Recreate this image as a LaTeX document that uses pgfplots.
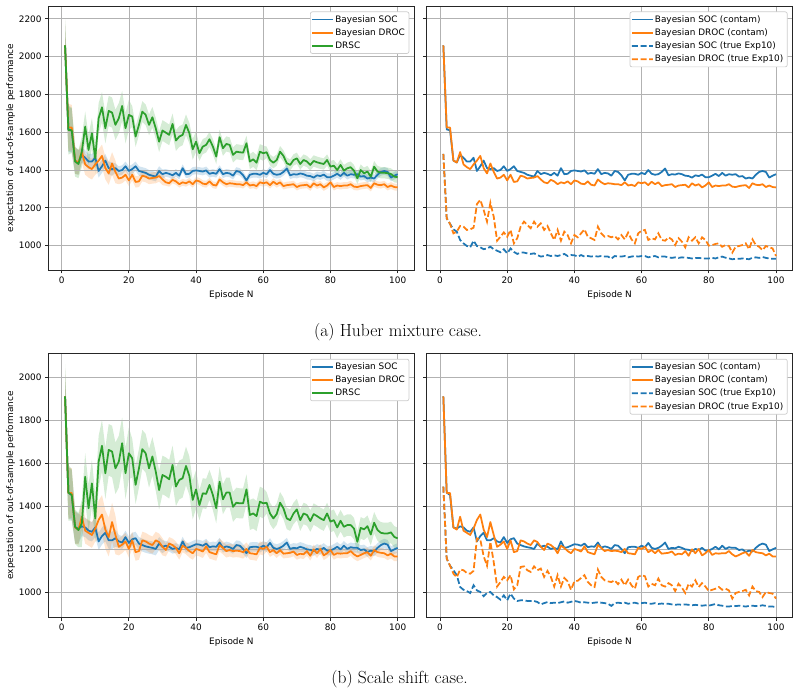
\documentclass[border=0pt]{standalone}
\usepackage{fontspec}
\usepackage{pgfplots}
\pgfplotsset{compat=1.18}
\usepackage{pgfplotstable}
\newfontfamily\dejavu{DejaVu Sans}
\newcommand\mpl{\dejavu\fontsize{8.9pt}{10.7pt}\selectfont}
\definecolor{tabblue}{HTML}{1F77B4}
\definecolor{taborange}{HTML}{FF7F0E}
\definecolor{tabgreen}{HTML}{2CA02C}

% N, mean and half band of each method; soct/droct: runs evaluated on the true Exp10 law
\pgfplotstableread{
N soc socs droc drocs drsc drscs soct droct
1 2060 130 2060 130 2060 140 1485 1485
2 1615 120 1625 125 1612 130 1145 1145
3 1610 115 1625 120 1610 120 1115 1115
4 1450 70 1450 70 1445 80 1086 1065
5 1440 65 1440 65 1432 75 1074 1074
6 1480 40 1495 55 1497 80 1030 1104
7 1465 40 1430 55 1630 80 1012 1100
8 1445 40 1415 55 1506 80 998 1083
9 1445 40 1405 55 1595 80 991 1086
10 1465 40 1430 55 1462 80 1026 1095
11 1395 35 1450 60 1674 80 998 1220
12 1420 35 1475 60 1732 80 991 1242
13 1450 35 1410 60 1621 80 981 1189
14 1410 35 1382 60 1713 80 985 1127
15 1405 35 1435 60 1704 80 994 1227
16 1410 25 1390 60 1639 80 981 1153
17 1395 25 1355 30 1674 80 973 1026
18 1400 25 1360 30 1739 80 965 1047
19 1420 25 1375 30 1621 80 981 1070
20 1395 25 1345 30 1692 80 959 1047
21 1405 25 1375 30 1683 55 985 1083
22 1420 25 1337 30 1577 55 967 1012
23 1395 25 1340 30 1639 55 956 1039
24 1390 25 1370 30 1709 55 963 1100
25 1385 25 1365 30 1692 55 963 1127
26 1375 25 1355 30 1639 55 959 1109
27 1370 25 1358 30 1679 55 956 1092
28 1365 25 1360 30 1621 55 959 1127
29 1395 25 1368 30 1550 55 950 1100
30 1378 25 1350 30 1609 55 942 1118
31 1385 20 1335 18 1598 55 945 1083
32 1380 20 1330 18 1586 55 950 1104
33 1372 20 1348 18 1644 55 945 1065
34 1385 20 1340 18 1556 55 949 1030
35 1370 20 1325 18 1577 55 945 1083
36 1410 20 1335 18 1586 55 950 1026
37 1378 20 1330 18 1639 55 956 1074
38 1380 20 1340 18 1595 55 945 1056
39 1395 20 1325 18 1510 55 950 1012
40 1398 20 1345 18 1550 55 949 1056
41 1395 20 1340 18 1489 40 942 1044
42 1392 20 1328 18 1524 40 950 1065
43 1398 20 1325 18 1533 40 942 1086
44 1380 20 1340 18 1563 40 945 1047
45 1385 20 1322 18 1524 40 942 1039
46 1380 20 1318 18 1471 40 945 1030
47 1405 20 1350 18 1574 40 942 1100
48 1378 20 1335 18 1515 40 945 1065
49 1385 20 1325 18 1538 40 942 1047
50 1382 20 1330 18 1533 40 942 1051
51 1370 20 1328 18 1480 40 931 1044
52 1395 20 1325 18 1497 40 945 1051
53 1390 20 1325 18 1494 40 942 1033
54 1372 20 1320 18 1492 40 942 1056
55 1345 20 1335 18 1542 40 945 1033
56 1375 20 1318 18 1445 40 938 1069
57 1380 20 1322 18 1457 40 942 1033
58 1380 20 1315 18 1439 40 945 1012
59 1375 20 1335 18 1497 40 942 1065
60 1385 20 1330 18 1489 40 945 1079
61 1378 20 1335 18 1494 30 945 1083
62 1400 20 1320 18 1453 30 938 1030
63 1380 20 1338 18 1439 30 942 1039
64 1375 20 1325 18 1453 30 945 1033
65 1378 20 1335 18 1497 30 938 1065
66 1390 20 1315 18 1475 30 942 1030
67 1408 20 1320 18 1436 30 942 1026
68 1372 20 1322 18 1427 30 938 1044
69 1378 20 1325 18 1453 30 935 1033
70 1376 20 1310 18 1462 30 938 1003
71 1382 20 1318 18 1432 30 935 1039
72 1378 20 1320 18 1453 30 938 1021
73 1370 20 1322 18 1445 30 936 991
74 1368 20 1308 18 1427 30 935 1044
75 1360 20 1330 18 1448 30 932 1026
76 1372 20 1318 18 1441 30 935 1044
77 1368 20 1325 18 1436 30 935 1012
78 1376 20 1308 18 1432 30 933 1044
79 1362 20 1318 18 1453 30 932 1030
80 1362 20 1335 18 1418 30 932 1000
81 1370 20 1310 18 1423 30 935 1003
82 1380 20 1318 18 1400 30 932 1009
83 1368 20 1315 18 1427 30 938 1012
84 1385 20 1318 18 1397 30 942 994
85 1370 20 1318 18 1409 30 936 1003
86 1378 20 1325 18 1415 30 932 998
87 1375 20 1312 18 1397 30 928 963
88 1378 20 1310 18 1356 30 930 994
89 1365 20 1315 18 1400 30 930 998
90 1368 20 1318 18 1383 30 932 1003
91 1355 20 1320 18 1392 30 930 1012
92 1360 20 1305 18 1365 30 928 981
93 1355 20 1330 18 1418 30 936 1033
94 1375 20 1322 18 1392 30 938 1003
95 1390 20 1320 18 1386 30 935 994
96 1395 20 1325 18 1386 30 940 976
97 1390 20 1310 18 1383 30 935 998
98 1360 20 1318 18 1379 30 932 991
99 1370 20 1310 18 1365 30 930 985
100 1378 20 1308 18 1362 30 930 945
}\huber

\pgfplotstableread{
N soc socs droc drocs drsc drscs soct droct
1 1910 130 1910 130 1910 150 1490 1490
2 1462 120 1460 120 1462 130 1155 1155
3 1451 115 1460 115 1451 120 1122 1122
4 1300 75 1300 75 1303 80 1101 1085
5 1295 70 1290 70 1288 80 1078 1068
6 1305 45 1350 60 1319 110 1023 1104
7 1300 45 1285 60 1536 110 1010 1101
8 1285 45 1275 60 1389 110 1004 1088
9 1280 45 1265 60 1505 110 995 1085
10 1300 45 1295 60 1342 110 1031 1098
11 1235 40 1335 90 1606 120 1007 1249
12 1260 40 1360 90 1680 120 1000 1244
13 1275 40 1290 90 1552 120 980 1166
14 1240 40 1255 90 1661 120 995 1122
15 1240 40 1325 90 1653 120 1000 1233
16 1250 40 1265 90 1575 120 984 1138
17 1235 30 1210 40 1606 120 976 1025
18 1230 30 1220 40 1692 120 964 1046
19 1255 30 1235 40 1552 120 984 1070
20 1228 30 1200 40 1645 120 961 1054
21 1245 30 1240 40 1622 90 992 1078
22 1250 30 1185 40 1498 90 969 1012
23 1225 30 1190 40 1575 90 958 1031
24 1218 30 1240 40 1664 90 961 1116
25 1212 30 1235 40 1645 90 961 1119
26 1208 30 1225 40 1575 90 958 1101
27 1205 30 1218 40 1630 90 958 1093
28 1200 30 1240 40 1560 90 958 1119
29 1225 30 1232 40 1474 90 953 1101
30 1210 30 1210 40 1544 90 942 1109
31 1215 22 1195 30 1536 90 948 1070
32 1210 22 1225 30 1524 90 953 1098
33 1200 22 1218 30 1591 90 948 1070
34 1205 22 1205 30 1490 90 950 1025
35 1198 22 1180 30 1521 90 948 1078
36 1235 22 1215 30 1529 90 952 1025
37 1205 22 1205 30 1586 90 956 1065
38 1208 22 1190 30 1540 90 950 1049
39 1215 22 1180 30 1428 90 954 1010
40 1222 22 1200 30 1477 90 958 1049
41 1220 22 1195 30 1404 70 955 1052
42 1215 22 1188 30 1459 70 950 1065
43 1225 22 1212 30 1456 70 952 1078
44 1208 22 1185 30 1498 70 950 1046
45 1212 22 1180 30 1451 70 948 1031
46 1210 22 1175 30 1389 70 950 1023
47 1230 22 1218 30 1513 70 952 1104
48 1205 22 1205 30 1431 70 950 1070
49 1212 22 1190 30 1462 70 948 1054
50 1208 22 1195 30 1462 70 945 1049
51 1200 22 1190 30 1396 70 935 1046
52 1218 22 1192 30 1415 70 948 1054
53 1215 22 1190 30 1412 70 950 1036
54 1200 22 1185 30 1412 70 948 1057
55 1180 22 1200 30 1477 70 950 1031
56 1208 22 1180 30 1358 70 945 1057
57 1210 22 1178 30 1365 70 948 1031
58 1210 22 1175 30 1353 70 950 1015
59 1205 22 1205 30 1420 70 946 1070
60 1215 22 1200 30 1412 70 948 1078
61 1208 22 1210 22 1415 50 950 1073
62 1228 22 1185 22 1365 50 946 1025
63 1205 22 1195 22 1342 50 945 1038
64 1200 22 1180 22 1362 50 948 1031
65 1205 22 1195 22 1415 50 944 1062
66 1215 22 1178 22 1389 50 946 1031
67 1230 22 1180 22 1342 50 944 1025
68 1200 22 1182 22 1334 50 945 1041
69 1205 22 1188 22 1365 50 942 1031
70 1203 22 1172 22 1384 50 940 1004
71 1210 22 1178 22 1334 50 942 1038
72 1205 22 1175 22 1365 50 940 1020
73 1198 22 1190 22 1358 50 942 995
74 1196 22 1168 22 1330 50 940 1038
75 1190 22 1198 22 1362 50 938 1025
76 1200 22 1180 22 1353 50 940 1054
77 1195 22 1200 22 1342 50 938 1023
78 1205 22 1170 22 1334 50 936 1041
79 1192 22 1180 22 1365 50 938 1025
80 1193 22 1195 22 1327 50 936 1004
81 1200 22 1172 22 1334 50 940 1010
82 1210 22 1180 22 1300 50 944 1015
83 1198 22 1178 22 1331 50 938 1023
84 1215 22 1180 22 1303 50 936 1010
85 1200 22 1180 22 1311 50 932 1015
86 1208 22 1190 22 1311 50 932 1007
87 1205 22 1175 22 1295 50 935 969
88 1205 22 1165 22 1233 50 934 995
89 1195 22 1172 22 1298 50 936 1000
90 1198 22 1180 22 1291 50 934 1004
91 1186 22 1185 22 1306 50 932 1010
92 1192 22 1168 22 1267 50 935 984
93 1188 22 1195 22 1322 50 936 1025
94 1205 22 1185 22 1288 50 934 1004
95 1218 22 1182 22 1275 50 935 1000
96 1225 22 1180 22 1272 50 938 976
97 1220 22 1170 22 1272 50 935 1000
98 1190 22 1178 22 1277 50 932 995
99 1198 22 1165 22 1256 50 932 992
100 1205 22 1165 22 1249 50 930 969
}\scaleshift

\pgfplotsset{
  panel/.style={
    scale only axis, width=365.9pt, height=264pt,
    anchor=south west, xmin=-3.95, xmax=104.95,
  },
  mplaxis/.style={
    panel,
    xtick={0,20,...,100},
    grid=major,
    major grid style={line width=0.7pt, draw=black!30},
    axis line style={line width=0.75pt, draw=black!85},
    tick align=outside, tick pos=left, major tick length=3.3pt,
    every tick/.style={line width=0.75pt, black!85},
    tick label style={font=\mpl},
    label style={font=\mpl},
    xlabel={Episode N},
    xlabel style={at={(axis description cs:0.5,-0.1034)}, anchor=base},
    /pgf/number format/assume math mode=true,
    /pgf/number format/set thousands separator={},
    legend cell align=left,
    legend style={at={(1,1)}, anchor=north east, xshift=-5pt, yshift=-5.5pt,
      draw=black!20, line width=0.7pt, rounded corners=2pt,
      fill=white, font=\mpl,
      inner xsep=2pt, inner ysep=1.5pt, row sep=1pt},
  },
  ylab/.style={
    ylabel={expectation of out-of-sample performance},
    ylabel style={at={(axis description cs:-0.0967,0.5)}, anchor=base},
  },
  % legend keys drawn as filled strips so they keep their full weight
  key/.style={legend image code/.code={%
    \fill[#1, draw=none, sharp corners] (0pt,-0.9pt) rectangle (21pt,0.9pt);}},
  dashkey/.style={legend image code/.code={%
    \fill[#1, draw=none, sharp corners] (0pt,-0.9pt) rectangle (6pt,0.9pt)
      (8.6pt,-0.9pt) rectangle (14.6pt,0.9pt)
      (17.2pt,-0.9pt) rectangle (21pt,0.9pt);}},
  soc/.style={draw=tabblue, line width=1.75pt, line join=round, key=tabblue},
  droc/.style={draw=taborange, line width=1.75pt, line join=round, key=taborange},
  drsc/.style={draw=tabgreen, line width=1.75pt, line join=round, key=tabgreen},
  socdash/.style={draw=tabblue, line width=1.75pt, dash pattern=on 6pt off 2.6pt, dashkey=tabblue},
  drocdash/.style={draw=taborange, line width=1.75pt, dash pattern=on 6pt off 2.6pt, dashkey=taborange},
}

% shaded band (mean +/- half width) as a stacked area in a hidden axis
% #1 position, #2 ymin, #3 ymax, #4 table, #5 mean column, #6 half-width column, #7 colour
\newcommand\band[7]{%
  \begin{axis}[panel, at={#1}, ymin=#2, ymax=#3, hide axis, stack plots=y]
    \addplot[draw=none] table[x=N, y expr=\thisrow{#5}-\thisrow{#6}] {#4};
    \addplot[fill=#7, fill opacity=0.2, draw=none] table[x=N, y expr=2*\thisrow{#6}] {#4} \closedcycle;
  \end{axis}%
}

\begin{document}
\begin{tikzpicture}
\path[use as bounding box] (0pt,0pt) rectangle (799pt,694pt);

% (a) Huber mixture, all methods
\band{(48.4pt,424pt)}{871}{2268}{\huber}{soc}{socs}{tabblue}
\band{(48.4pt,424pt)}{871}{2268}{\huber}{droc}{drocs}{taborange}
\band{(48.4pt,424pt)}{871}{2268}{\huber}{drsc}{drscs}{tabgreen}
\begin{axis}[mplaxis, ylab, at={(48.4pt,424pt)},
    ymin=871, ymax=2268, ytick={1000,1200,...,2200}]
  \addplot[soc] table[x=N, y=soc] {\huber};
  \addlegendentry{Bayesian SOC}
  \addplot[droc] table[x=N, y=droc] {\huber};
  \addlegendentry{Bayesian DROC}
  \addplot[drsc] table[x=N, y=drsc] {\huber};
  \addlegendentry{DRSC}
\end{axis}

% (a) Huber mixture, contaminated vs true law
\begin{axis}[mplaxis, at={(426.7pt,424pt)},
    ymin=871, ymax=2268, ytick={1000,1200,...,2200}, yticklabels={}]
  \addplot[soc] table[x=N, y=soc] {\huber};
  \addlegendentry{Bayesian SOC (contam)}
  \addplot[droc] table[x=N, y=droc] {\huber};
  \addlegendentry{Bayesian DROC (contam)}
  \addplot[socdash] table[x=N, y=soct] {\huber};
  \addlegendentry{Bayesian SOC (true Exp10)}
  \addplot[drocdash] table[x=N, y=droct] {\huber};
  \addlegendentry{Bayesian DROC (true Exp10)}
\end{axis}

% (b) scale shift, all methods
\band{(48.4pt,76.7pt)}{882}{2110}{\scaleshift}{soc}{socs}{tabblue}
\band{(48.4pt,76.7pt)}{882}{2110}{\scaleshift}{droc}{drocs}{taborange}
\band{(48.4pt,76.7pt)}{882}{2110}{\scaleshift}{drsc}{drscs}{tabgreen}
\begin{axis}[mplaxis, ylab, at={(48.4pt,76.7pt)},
    ymin=882, ymax=2110, ytick={1000,1200,...,2000}]
  \addplot[soc] table[x=N, y=soc] {\scaleshift};
  \addlegendentry{Bayesian SOC}
  \addplot[droc] table[x=N, y=droc] {\scaleshift};
  \addlegendentry{Bayesian DROC}
  \addplot[drsc] table[x=N, y=drsc] {\scaleshift};
  \addlegendentry{DRSC}
\end{axis}

% (b) scale shift, contaminated vs true law
\begin{axis}[mplaxis, at={(426.7pt,76.7pt)},
    ymin=882, ymax=2110, ytick={1000,1200,...,2000}, yticklabels={}]
  \addplot[soc] table[x=N, y=soc] {\scaleshift};
  \addlegendentry{Bayesian SOC (contam)}
  \addplot[droc] table[x=N, y=droc] {\scaleshift};
  \addlegendentry{Bayesian DROC (contam)}
  \addplot[socdash] table[x=N, y=soct] {\scaleshift};
  \addlegendentry{Bayesian SOC (true Exp10)}
  \addplot[drocdash] table[x=N, y=droct] {\scaleshift};
  \addlegendentry{Bayesian DROC (true Exp10)}
\end{axis}

\node[anchor=base] at (398pt,358pt) {\fontsize{17.5pt}{21pt}\selectfont (a) Huber mixture case.};
\node[anchor=base] at (399.5pt,11pt) {\fontsize{17.5pt}{21pt}\selectfont (b) Scale shift case.};
\end{tikzpicture}
\end{document}
